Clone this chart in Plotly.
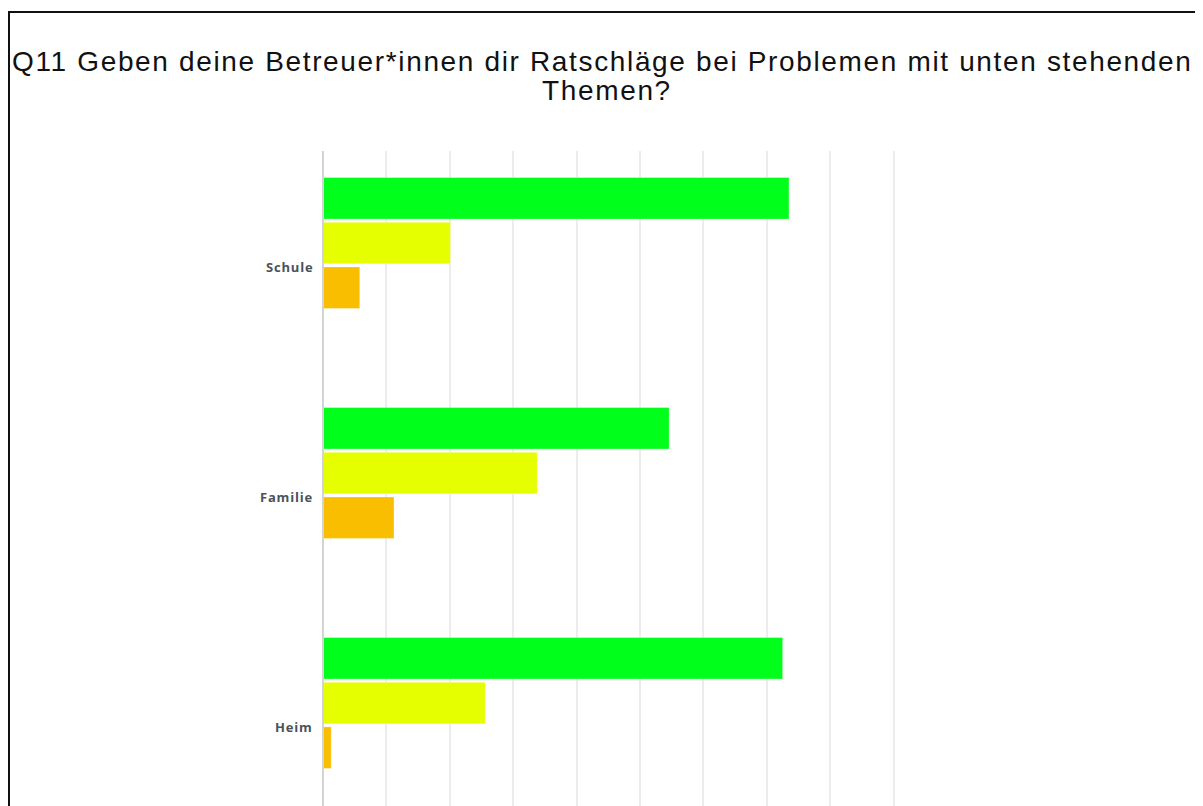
import plotly.graph_objects as go

categories = ["Schule", "Familie", "Heim"]
series_names = ["Ja", "Manchmal", "Nein"]
values_green = [73.5, 54.6, 72.5]
values_yellow = [20.1, 33.8, 25.6]
values_orange = [5.8, 11.2, 1.3]
colors = ["#00ff1a", "#e5ff00", "#f9be00"]
title_lines = [
    "Q11 Geben deine Betreuer*innen dir Ratschläge bei Problemen mit unten stehenden",
    "Themen?",
]

# page has an 8px body margin, so the figure fills the rest of the window
W, H = 1195, 798
L, R, T, B = 315, 246, 143, 0
pw, ph = W - L - R, H - T - B


def fx(p):  # figure pixel -> paper x
    return (p - L) / pw


def fy(p):  # figure pixel (from top) -> paper y
    return 1 + (T - p) / ph


fig = go.Figure()
for name, vals, col in zip(series_names, [values_green, values_yellow, values_orange], colors):
    fig.add_trace(go.Bar(
        y=categories, x=vals, name=name, orientation="h",
        marker=dict(color=col, line=dict(color="rgba(255,255,255,0.35)", width=1)),
        showlegend=False,
    ))

annotations = []
for c in categories:
    annotations.append(dict(
        x=0, xref="paper", y=c, yref="y", xanchor="right", yanchor="middle",
        xshift=-8, yshift=-24, showarrow=False,
        text="<span style='letter-spacing:0.8px'>" + c + "</span>",
        font=dict(family="Open Sans", size=13, color="#4b525a", weight="bold"),
    ))

for line, ypix, xc in zip(title_lines, [53, 82], [W / 2 - 3, W / 2 + 1]):
    annotations.append(dict(
        x=fx(xc), xref="paper", y=fy(ypix), yref="paper",
        xanchor="center", yanchor="middle", showarrow=False,
        text="<span style='letter-spacing:1.65px'>" + line + "</span>",
        font=dict(family="Liberation Sans", size=28, color="#111111"),
    ))

fig.update_layout(
    width=W, height=H,
    margin=dict(l=L, r=R, t=T, b=B, pad=0),
    paper_bgcolor="white", plot_bgcolor="white",
    barmode="group", bargap=0.417, bargroupgap=0.07,
    xaxis=dict(
        range=[0, 100], dtick=10, showgrid=True, gridcolor="#ececec", gridwidth=2,
        showticklabels=False, zeroline=False, showline=False, ticks="",
    ),
    yaxis=dict(
        range=[2.448, -0.4], showticklabels=False, showgrid=False, zeroline=False,
        showline=False, ticks="",
    ),
    annotations=annotations,
    shapes=[
        dict(type="line", xref="paper", yref="paper", x0=0, x1=0, y0=0, y1=1,
             line=dict(color="#d4d4d4", width=2), layer="above"),
        dict(type="rect", xref="paper", yref="paper",
             x0=fx(1), x1=fx(W + 20), y0=fy(H + 20), y1=fy(4),
             line=dict(color="#111111", width=2), fillcolor="rgba(0,0,0,0)", layer="above"),
    ],
)

fig.write_html("out.html")
